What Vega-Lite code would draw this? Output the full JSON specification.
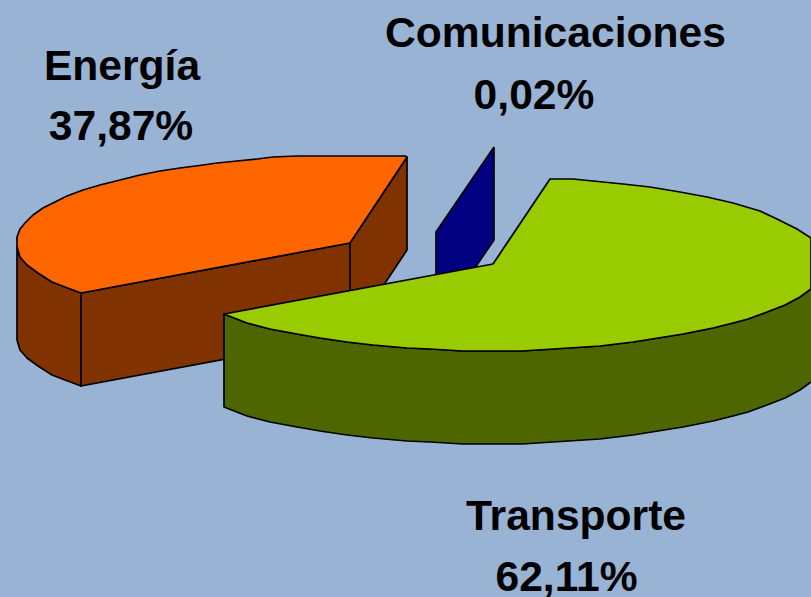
{"$schema":"https://vega.github.io/schema/vega-lite/v6.json","width":811,"height":597,"padding":0,"autosize":{"type":"none"},"background":"#99b3d4","view":{"stroke":null},
"datasets":{"labels":[
{"x":555.5,"y":47,"t":"Comunicaciones"},{"x":534,"y":109,"t":"0,02%"},{"x":122,"y":80,"t":"Energía"},{"x":121,"y":140,"t":"37,87%"},{"x":576,"y":530,"t":"Transporte"},{"x":566.5,"y":591,"t":"62,11%"}],
"shapes":[
{"p":"a","i":0,"x":17,"y":247},{"p":"a","i":1,"x":20,"y":257},{"p":"a","i":2,"x":27,"y":265},{"p":"a","i":3,"x":38,"y":273},{"p":"a","i":4,"x":52,"y":282},{"p":"a","i":5,"x":65,"y":287},{"p":"a","i":6,"x":81,"y":293},{"p":"a","i":7,"x":81,"y":386},{"p":"a","i":8,"x":65,"y":380},{"p":"a","i":9,"x":52,"y":375},{"p":"a","i":10,"x":38,"y":366},{"p":"a","i":11,"x":27,"y":358},{"p":"a","i":12,"x":20,"y":350},{"p":"a","i":13,"x":17,"y":340},{"p":"a","i":14,"x":17,"y":247},
{"p":"b","i":0,"x":81,"y":293},{"p":"b","i":1,"x":350,"y":243},{"p":"b","i":2,"x":350,"y":336},{"p":"b","i":3,"x":81,"y":386},{"p":"b","i":4,"x":81,"y":293},
{"p":"c","i":0,"x":350,"y":243},{"p":"c","i":1,"x":407,"y":157},{"p":"c","i":2,"x":407,"y":250},{"p":"c","i":3,"x":350,"y":336},{"p":"c","i":4,"x":350,"y":243},
{"p":"d","i":0,"x":407,"y":157},{"p":"d","i":1,"x":405,"y":156},{"p":"d","i":2,"x":297,"y":156},{"p":"d","i":3,"x":273,"y":157},{"p":"d","i":4,"x":257,"y":159},{"p":"d","i":5,"x":237,"y":161},{"p":"d","i":6,"x":217,"y":163},{"p":"d","i":7,"x":203,"y":165},{"p":"d","i":8,"x":180,"y":168},{"p":"d","i":9,"x":160,"y":171},{"p":"d","i":10,"x":140,"y":175},{"p":"d","i":11,"x":120,"y":180},{"p":"d","i":12,"x":100,"y":185},{"p":"d","i":13,"x":83,"y":190},{"p":"d","i":14,"x":67,"y":196},{"p":"d","i":15,"x":53,"y":203},{"p":"d","i":16,"x":43,"y":208},{"p":"d","i":17,"x":33,"y":215},{"p":"d","i":18,"x":25,"y":223},{"p":"d","i":19,"x":20,"y":229},{"p":"d","i":20,"x":17,"y":237},{"p":"d","i":21,"x":17,"y":247},{"p":"d","i":22,"x":20,"y":257},{"p":"d","i":23,"x":27,"y":265},{"p":"d","i":24,"x":38,"y":273},{"p":"d","i":25,"x":52,"y":282},{"p":"d","i":26,"x":65,"y":287},{"p":"d","i":27,"x":81,"y":293},{"p":"d","i":28,"x":350,"y":243},{"p":"d","i":29,"x":407,"y":157},
{"p":"e","i":0,"x":494,"y":147},{"p":"e","i":1,"x":436,"y":232},{"p":"e","i":2,"x":436,"y":325},{"p":"e","i":3,"x":494,"y":240},{"p":"e","i":4,"x":494,"y":147},
{"p":"f","i":0,"x":811,"y":289},{"p":"f","i":1,"x":800,"y":297},{"p":"f","i":2,"x":785,"y":305},{"p":"f","i":3,"x":767,"y":312},{"p":"f","i":4,"x":748,"y":319},{"p":"f","i":5,"x":733,"y":323},{"p":"f","i":6,"x":713,"y":328},{"p":"f","i":7,"x":683,"y":334},{"p":"f","i":8,"x":658,"y":338},{"p":"f","i":9,"x":633,"y":342},{"p":"f","i":10,"x":600,"y":346},{"p":"f","i":11,"x":553,"y":349},{"p":"f","i":12,"x":522,"y":351},{"p":"f","i":13,"x":463,"y":351},{"p":"f","i":14,"x":430,"y":349},{"p":"f","i":15,"x":407,"y":348},{"p":"f","i":16,"x":373,"y":345},{"p":"f","i":17,"x":347,"y":342},{"p":"f","i":18,"x":320,"y":338},{"p":"f","i":19,"x":297,"y":334},{"p":"f","i":20,"x":270,"y":329},{"p":"f","i":21,"x":247,"y":323},{"p":"f","i":22,"x":224,"y":314},{"p":"f","i":23,"x":224,"y":407},{"p":"f","i":24,"x":247,"y":416},{"p":"f","i":25,"x":270,"y":422},{"p":"f","i":26,"x":297,"y":427},{"p":"f","i":27,"x":320,"y":431},{"p":"f","i":28,"x":347,"y":435},{"p":"f","i":29,"x":373,"y":438},{"p":"f","i":30,"x":407,"y":441},{"p":"f","i":31,"x":430,"y":442},{"p":"f","i":32,"x":463,"y":444},{"p":"f","i":33,"x":522,"y":444},{"p":"f","i":34,"x":553,"y":442},{"p":"f","i":35,"x":600,"y":439},{"p":"f","i":36,"x":633,"y":435},{"p":"f","i":37,"x":658,"y":431},{"p":"f","i":38,"x":683,"y":427},{"p":"f","i":39,"x":713,"y":421},{"p":"f","i":40,"x":733,"y":416},{"p":"f","i":41,"x":748,"y":412},{"p":"f","i":42,"x":767,"y":405},{"p":"f","i":43,"x":785,"y":398},{"p":"f","i":44,"x":800,"y":390},{"p":"f","i":45,"x":811,"y":382},
{"p":"g","i":0,"x":493,"y":264},{"p":"g","i":1,"x":550,"y":179},{"p":"g","i":2,"x":573,"y":179},{"p":"g","i":3,"x":593,"y":181},{"p":"g","i":4,"x":623,"y":184},{"p":"g","i":5,"x":650,"y":187},{"p":"g","i":6,"x":680,"y":192},{"p":"g","i":7,"x":707,"y":197},{"p":"g","i":8,"x":733,"y":203},{"p":"g","i":9,"x":760,"y":211},{"p":"g","i":10,"x":777,"y":219},{"p":"g","i":11,"x":797,"y":229},{"p":"g","i":12,"x":811,"y":238},{"p":"g","i":13,"x":811,"y":289},{"p":"g","i":14,"x":800,"y":297},{"p":"g","i":15,"x":785,"y":305},{"p":"g","i":16,"x":767,"y":312},{"p":"g","i":17,"x":748,"y":319},{"p":"g","i":18,"x":733,"y":323},{"p":"g","i":19,"x":713,"y":328},{"p":"g","i":20,"x":683,"y":334},{"p":"g","i":21,"x":658,"y":338},{"p":"g","i":22,"x":633,"y":342},{"p":"g","i":23,"x":600,"y":346},{"p":"g","i":24,"x":553,"y":349},{"p":"g","i":25,"x":522,"y":351},{"p":"g","i":26,"x":463,"y":351},{"p":"g","i":27,"x":430,"y":349},{"p":"g","i":28,"x":407,"y":348},{"p":"g","i":29,"x":373,"y":345},{"p":"g","i":30,"x":347,"y":342},{"p":"g","i":31,"x":320,"y":338},{"p":"g","i":32,"x":297,"y":334},{"p":"g","i":33,"x":270,"y":329},{"p":"g","i":34,"x":247,"y":323},{"p":"g","i":35,"x":224,"y":314},{"p":"g","i":36,"x":493,"y":264}
]},
"layer":[
{"data":{"name":"shapes"},"mark":{"type":"line","stroke":"#000000","strokeWidth":1.7,"strokeJoin":"round","interpolate":"linear"},
"encoding":{"x":{"field":"x","type":"quantitative","scale":{"domain":[0,811],"nice":false,"zero":false},"axis":null},"y":{"field":"y","type":"quantitative","scale":{"domain":[597,0],"nice":false,"zero":false},"axis":null},"order":{"field":"i","type":"quantitative"},
"fill":{"field":"p","type":"nominal","legend":null,"scale":{"domain":["a","b","c","d","e","f","g"],"range":["#803300","#803300","#803300","#ff6600","#000080","#4d6600","#99cc00"]}}}},
{"data":{"name":"labels"},"mark":{"type":"text","font":"Liberation Sans","fontWeight":"bold","fontSize":42.6,"color":"#000000","align":"center","baseline":"alphabetic"},
"encoding":{"x":{"field":"x","type":"quantitative","scale":{"domain":[0,811],"nice":false,"zero":false},"axis":null},"y":{"field":"y","type":"quantitative","scale":{"domain":[597,0],"nice":false,"zero":false},"axis":null},"text":{"field":"t","type":"nominal"}}}
]}
